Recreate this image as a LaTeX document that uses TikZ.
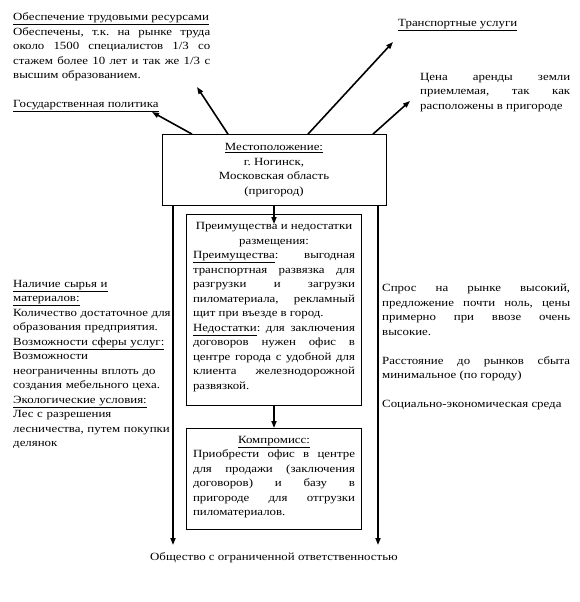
\documentclass[tikz,border=0pt]{standalone}
\usepackage{fontspec}
\setmainfont[FakeStretch=1.17]{Liberation Serif}
\usetikzlibrary{arrows.meta}
\frenchspacing

\begin{document}
\begin{tikzpicture}[x=1pt, y=-1pt,
  every node/.style={font=\fontsize{11}{14.5}\selectfont, inner sep=0pt},
  txt/.style={anchor=north west, align=justify},
  box/.style={draw, line width=0.8pt, minimum width=175pt, anchor=north},
  arr/.style={-{Triangle[length=7pt, width=5pt]}, line width=1.6pt}]
  \useasboundingbox (0,0) rectangle (580,602);

  \node (loc) [draw, line width=0.8pt, minimum width=224pt, minimum height=71pt, align=center] at (274,170)
    {\underline{Местоположение:}\\г. Ногинск,\\Московская область\\(пригород)};

  \node (labor) [txt, text width=197pt] at (13,12.5)
    {\underline{Обеспечение трудовыми ресурсами}\\
     Обеспечены, т.к. на рынке труда\linebreak около 1500 специалистов 1/3 со\linebreak стажем более 10 лет и так же 1/3 с\linebreak высшим образованием.};
  \node (gov) [anchor=west] at (13,106) {\underline{Государственная политика}};
  \node (transp) [anchor=west] at (398,25.5) {\underline{Транспортные услуги}};
  \node (rent) [txt, text width=150pt] at (420,73)
    {Цена аренды земли\linebreak приемлемая, так как\linebreak расположены в пригороде};

  \node (res) [txt, text width=170pt, align=left] at (13,280)
    {\underline{Наличие сырья и}\\\underline{материалов:}\\Количество достаточное для\\образования предприятия.\\
     \underline{Возможности сферы услуг:}\\Возможности\\неограниченны вплоть до\\создания мебельного цеха.\\
     \underline{Экологические условия:}\\Лес с разрешения\\лесничества, путем покупки\\делянок};
  \node (market) [txt, text width=188pt] at (382,284)
    {Спрос на рынке высокий,\linebreak предложение почти ноль, цены\linebreak примерно при ввозе очень\linebreak высокие.\\[14.5pt]
     Расстояние до рынков сбыта\linebreak минимальное (по городу)\\[14.5pt]
     Социально-экономическая среда};

  \node (adv) [box, minimum height=191pt] at (274,214) {};
  \node (advtxt) [anchor=north, text width=162pt, align=justify] at (274,222.5)
    {{\centering Преимущества и недостатки\\размещения:\par}
     \underline{Преимущества}: выгодная\linebreak транспортная развязка для\linebreak разгрузки и загрузки\linebreak пиломатериала, рекламный\linebreak щит при въезде в город.\\
     \underline{Недостатки}: для заключения\linebreak договоров нужен офис в\linebreak центре города с удобной для\linebreak клиента железнодорожной\linebreak развязкой.};

  \node (comp) [box, minimum height=101pt] at (274,428) {};
  \node (comptxt) [anchor=north, text width=162pt, align=justify] at (274,436)
    {{\centering\underline{Компромисс:}\par}
     Приобрести офис в центре\linebreak для продажи (заключения\linebreak договоров) и базу в\linebreak пригороде для отгрузки\linebreak пиломатериалов.};

  \node (llc) at (274,558) {Общество с ограниченной ответственностью};

  \coordinate (govend) at (152,112);
  \coordinate (laborend) at (197,87);
  \coordinate (transpend) at (393,42);
  \coordinate (rentend) at (410,101);

  \draw[arr] ([xshift=-82pt]loc.north) -- (govend);
  \draw[arr] ([xshift=-46pt]loc.north) -- (laborend);
  \draw[arr] ([xshift=34pt]loc.north) -- (transpend);
  \draw[arr] ([xshift=99pt]loc.north) -- (rentend);

  \draw[arr] (loc.south) -- ([yshift=-10pt]adv.north);
  \draw[arr] (adv.south) -- (comp.north);
  \draw[arr] ([xshift=-101pt]loc.south) -- ([xshift=-101pt]loc.south |- 0,545);
  \draw[arr] ([xshift=104pt]loc.south) -- ([xshift=104pt]loc.south |- 0,545);
\end{tikzpicture}
\end{document}
